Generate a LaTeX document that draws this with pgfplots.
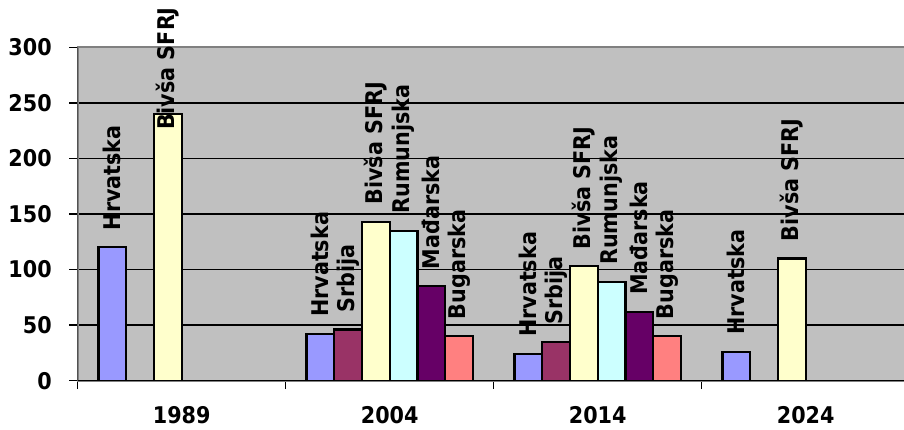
\documentclass[border=0pt]{standalone}
\usepackage{fontspec}
\setmainfont{DejaVu Sans}[FakeStretch=0.9]
\usepackage{pgfplots}
\usepackage{pgfplotstable}
\pgfplotsset{compat=1.18}

\definecolor{chrv}{HTML}{9999FF}
\definecolor{csrb}{HTML}{993366}
\definecolor{csfrj}{HTML}{FFFFCC}
\definecolor{crum}{HTML}{CCFFFF}
\definecolor{cmad}{HTML}{660066}
\definecolor{cbug}{HTML}{FF8080}
\definecolor{plotgray}{HTML}{C0C0C0}
\definecolor{bordergray}{HTML}{808080}

% x: 0=1989, 1=2004, 2=2014, 3=2024; off = gap between bar top and its label
\pgfplotstableread{
x y off
0 120 16
1 42 16
2 24 16
3 26 16
}\hrv
\pgfplotstableread{
x y off
1 46 16
2 35 16
}\srb
\pgfplotstableread{
x y off
0 240 -17
1 143 16
2 103 16
3 110 16
}\sfrj
\pgfplotstableread{
x y off
1 135 16
2 89 16
}\rum
\pgfplotstableread{
x y off
1 85 16
2 62 16
}\mad
\pgfplotstableread{
x y off
1 40 16
2 40 16
}\bug

\newcommand{\lblfont}{\bfseries\fontsize{23}{27}\selectfont}

\begin{document}
\begin{tikzpicture}
\useasboundingbox (-77.7pt,-48.3pt) rectangle (826.3pt,380.7pt);
\fill[white] (-77.7pt,-48.3pt) rectangle (826.3pt,380.7pt);
\clip (-77.7pt,-48.3pt) rectangle (826.3pt,380.7pt);
\begin{axis}[
  scale only axis, width=832pt, height=333.4pt,
  xmin=-0.5, xmax=3.5, ymin=0, ymax=300,
  axis background/.style={fill=plotgray},
  axis line style={draw=bordergray, line width=1.8pt},
  ymajorgrids, grid style={black, line width=1.3pt},
  ytick={0,50,...,300},
  xtick={-0.5,0.5,1.5,2.5,3.5},
  x tick label as interval,
  xticklabels={1989,2004,2014,2024},
  xtick pos=lower, ytick pos=left,
  tick align=outside,
  major tick length=8.5pt,
  tick style={black, line width=1.3pt},
  /pgf/number format/assume math mode=true,
  ticklabel style={font=\lblfont},
  yticklabel style={xshift=-14pt},
  xticklabel style={yshift=-14pt},
  ybar, bar width=27.73pt,
  every axis plot/.append style={draw=black, line width=2.2pt},
  visualization depends on={\thisrow{off}\as\loff},
  nodes near coords style={yshift=\loff pt, rotate=90, anchor=west,
    inner sep=0pt, font=\lblfont, text=black},
]
\addplot[fill=chrv,  bar shift=-69.33pt, nodes near coords={Hrvatska}]   table[x=x,y=y] {\hrv};
\addplot[fill=csrb,  bar shift=-41.6pt,  nodes near coords={Srbija}]     table[x=x,y=y] {\srb};
\addplot[fill=csfrj, bar shift=-13.87pt, nodes near coords={Bivša SFRJ}] table[x=x,y=y] {\sfrj};
\addplot[fill=crum,  bar shift=13.87pt,  nodes near coords={Rumunjska}]  table[x=x,y=y] {\rum};
\addplot[fill=cmad,  bar shift=41.6pt,   nodes near coords={Mađarska}]   table[x=x,y=y] {\mad};
\addplot[fill=cbug,  bar shift=69.33pt,  nodes near coords={Bugarska}]   table[x=x,y=y] {\bug};
\draw[black, line width=1.5pt] (rel axis cs:0,1) -- (rel axis cs:0,0) -- (rel axis cs:1,0);
\end{axis}
\end{tikzpicture}
\end{document}
